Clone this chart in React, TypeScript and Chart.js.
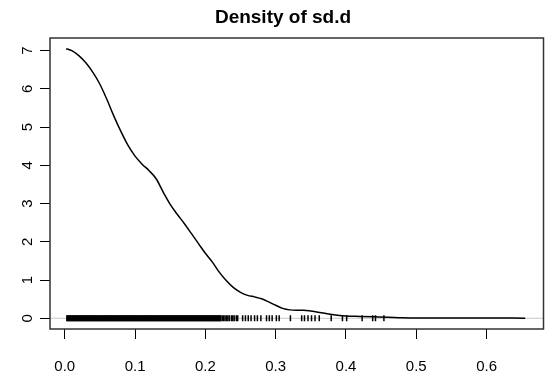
import React, { useEffect, useRef } from 'react';
import { Chart, registerables } from 'chart.js';

Chart.register(...registerables);

const titleText = 'Density of sd.d';

const densityX = [
  0.002, 0.01, 0.02, 0.03, 0.04, 0.05, 0.06, 0.07, 0.08, 0.09, 0.1, 0.11, 0.12, 0.13, 0.14,
  0.15, 0.16, 0.17, 0.18, 0.19, 0.2, 0.21, 0.22, 0.23, 0.24, 0.25, 0.26, 0.27, 0.28, 0.29,
  0.3, 0.31, 0.32, 0.33, 0.34, 0.35, 0.36, 0.37, 0.38, 0.4, 0.42, 0.44, 0.46, 0.48, 0.5,
  0.55, 0.6, 0.655,
];
const densityY = [
  7.05, 7.0, 6.87, 6.68, 6.43, 6.12, 5.72, 5.28, 4.88, 4.52, 4.24, 4.03, 3.86, 3.65, 3.3,
  2.98, 2.72, 2.48, 2.22, 1.96, 1.7, 1.47, 1.2, 0.98, 0.8, 0.68, 0.6, 0.56, 0.51, 0.43,
  0.34, 0.26, 0.22, 0.21, 0.21, 0.19, 0.16, 0.13, 0.1, 0.06, 0.05, 0.04, 0.03, 0.015, 0.01,
  0.005, 0.01, 0.003,
];

// observations packed so tightly that their rug marks merge into a solid bar
const rugDenseX = [
  0.003, 0.004, 0.005, 0.006, 0.007, 0.008, 0.009, 0.01, 0.011, 0.012, 0.013, 0.014, 0.015,
  0.016, 0.017, 0.018, 0.019, 0.02, 0.021, 0.022, 0.023, 0.024, 0.025, 0.026, 0.027, 0.028,
  0.029, 0.03, 0.031, 0.032, 0.033, 0.034, 0.035, 0.036, 0.037, 0.038, 0.039, 0.04, 0.041,
  0.042, 0.043, 0.044, 0.045, 0.046, 0.047, 0.048, 0.049, 0.05, 0.051, 0.052, 0.053, 0.054,
  0.055, 0.056, 0.057, 0.058, 0.059, 0.06, 0.061, 0.062, 0.063, 0.064, 0.065, 0.066, 0.067,
  0.068, 0.069, 0.07, 0.071, 0.072, 0.073, 0.074, 0.075, 0.076, 0.077, 0.078, 0.079, 0.08,
  0.081, 0.082, 0.083, 0.084, 0.085, 0.086, 0.087, 0.088, 0.089, 0.09, 0.091, 0.092, 0.093,
  0.094, 0.095, 0.096, 0.097, 0.098, 0.099, 0.1, 0.101, 0.102, 0.103, 0.104, 0.105, 0.106,
  0.107, 0.108, 0.109, 0.11, 0.111, 0.112, 0.113, 0.114, 0.115, 0.116, 0.117, 0.118, 0.119,
  0.12, 0.121, 0.122, 0.123, 0.124, 0.125, 0.126, 0.127, 0.128, 0.129, 0.13, 0.131, 0.132,
  0.133, 0.134, 0.135, 0.136, 0.137, 0.138, 0.139, 0.14, 0.141, 0.142, 0.143, 0.144, 0.145,
  0.146, 0.147, 0.148, 0.149, 0.15, 0.151, 0.152, 0.153, 0.154, 0.155, 0.156, 0.157, 0.158,
  0.159, 0.16, 0.161, 0.162, 0.163, 0.164, 0.165, 0.166, 0.167, 0.168, 0.169, 0.17, 0.171,
  0.172, 0.173, 0.174, 0.175, 0.176, 0.177, 0.178, 0.179, 0.18, 0.181, 0.182, 0.183, 0.184,
  0.185, 0.186, 0.187, 0.188, 0.189, 0.19, 0.191, 0.192, 0.193, 0.194, 0.195, 0.196, 0.197,
  0.198, 0.199, 0.2, 0.201, 0.202, 0.203, 0.204, 0.205, 0.206, 0.207, 0.208, 0.209, 0.21,
  0.211, 0.212, 0.213, 0.214, 0.215, 0.216, 0.217, 0.218, 0.219, 0.22, 0.221, 0.222, 0.224,
  0.226, 0.228, 0.23, 0.232, 0.234, 0.237, 0.239, 0.241, 0.244, 0.246,
];
const rugSparseX = [
  0.253, 0.257, 0.261, 0.265, 0.27, 0.274, 0.279, 0.287, 0.291, 0.295, 0.301, 0.305,
  0.321, 0.337, 0.341, 0.346, 0.351, 0.356, 0.362, 0.379, 0.395, 0.401, 0.423, 0.438,
  0.442, 0.454,
];

const xTicks = [0, 0.1, 0.2, 0.3, 0.4, 0.5, 0.6];
const yTicks = [0, 1, 2, 3, 4, 5, 6, 7];

const FONT = '"Liberation Sans", Arial, Helvetica, sans-serif';

export default function App() {
  const ref = useRef<HTMLCanvasElement>(null);

  useEffect(() => {
    document.body.style.margin = '0';
    if (!ref.current) return;

    const rPlot = {
      id: 'rPlot',
      beforeDatasetsDraw(chart: any) {
        const { ctx, chartArea: a, scales } = chart;
        const y0 = scales.y.getPixelForValue(0);
        ctx.save();
        ctx.strokeStyle = '#c9c9c9';
        ctx.lineWidth = 1;
        ctx.beginPath();
        ctx.moveTo(a.left, y0);
        ctx.lineTo(a.right, y0);
        ctx.stroke();
        ctx.restore();
      },
      afterDraw(chart: any) {
        const { ctx, chartArea: a } = chart;
        ctx.save();
        ctx.strokeStyle = '#333';
        ctx.lineWidth = 1.5;
        ctx.strokeRect(a.left, a.top, a.right - a.left, a.bottom - a.top);
        ctx.font = `bold 19px ${FONT}`;
        ctx.fillStyle = '#000';
        ctx.textAlign = 'center';
        ctx.textBaseline = 'middle';
        ctx.fillText(titleText, 283, 18);
        ctx.restore();
      },
    };

    const rugStyle = {
      type: 'scatter',
      pointStyle: 'line',
      rotation: 90,
      radius: 3,
      borderColor: '#000',
      backgroundColor: '#000',
    };

    const chart = new Chart(ref.current, {
      type: 'scatter',
      data: {
        datasets: [
          {
            type: 'line',
            data: densityX.map((x, i) => ({ x, y: densityY[i] })),
            borderColor: '#000',
            borderWidth: 1.5,
            pointRadius: 0,
            cubicInterpolationMode: 'monotone',
            fill: false,
          } as any,
          { ...rugStyle, borderWidth: 1.5, data: rugDenseX.map((x) => ({ x, y: 0 })) } as any,
          { ...rugStyle, borderWidth: 1.5, data: rugSparseX.map((x) => ({ x, y: 0 })) } as any,
        ],
      },
      options: {
        responsive: false,
        animation: false,
        layout: { padding: { left: 0, right: 1, top: 38, bottom: 0 } },
        plugins: { legend: { display: false }, tooltip: { enabled: false }, title: { display: false } },
        scales: {
          x: {
            type: 'linear',
            min: -0.021,
            max: 0.681,
            afterBuildTicks: (s: any) => {
              s.ticks = xTicks.map((v) => ({ value: v }));
            },
            afterFit: (s: any) => {
              s.height = 44;
            },
            ticks: {
              callback: (v: any) => Number(v).toFixed(1),
              font: { size: 15, family: FONT },
              color: '#000',
              padding: 19,
              maxRotation: 0,
              autoSkip: false,
            },
            grid: { drawOnChartArea: false, drawTicks: true, tickLength: 10, color: '#000', lineWidth: 1 },
            border: { display: false },
          },
          y: {
            type: 'linear',
            min: -0.28,
            max: 7.33,
            afterBuildTicks: (s: any) => {
              s.ticks = yTicks.map((v) => ({ value: v }));
            },
            afterFit: (s: any) => {
              s.width = 50;
            },
            ticks: {
              callback: (v: any) => String(v),
              font: { size: 15, family: FONT },
              color: '#000',
              padding: 8,
              minRotation: 90,
              maxRotation: 90,
              crossAlign: 'center',
              autoSkip: false,
            },
            grid: { drawOnChartArea: false, drawTicks: true, tickLength: 10, color: '#000', lineWidth: 1 },
            border: { display: false },
          },
        },
      } as any,
      plugins: [rPlot],
    });

    return () => chart.destroy();
  }, []);

  return <canvas ref={ref} width={549} height={373} style={{ display: 'block' }} />;
}
